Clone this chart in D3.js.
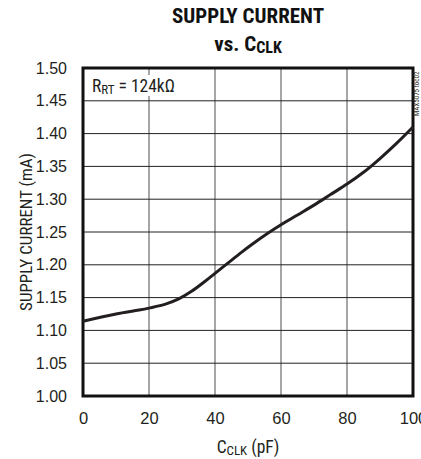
<!DOCTYPE html>
<html><head><meta charset="utf-8">
<script src="https://cdn.jsdelivr.net/npm/d3@7"></script>
<style>
html,body{margin:0;padding:0;background:#fff;}
svg{display:block;font-family:"Roboto Condensed","Liberation Sans",sans-serif;}
</style></head><body>
<svg id="c" width="421" height="459"></svg>
<script>
const cclk = [0, 10, 17, 20, 25, 29, 33, 37, 40, 44, 48, 52, 56, 60, 65, 70, 75, 80, 85, 90, 95, 100];
const current = [1.114, 1.125, 1.131, 1.134, 1.140, 1.148, 1.160, 1.175, 1.187, 1.203, 1.219, 1.234, 1.248, 1.261, 1.276, 1.291, 1.307, 1.323, 1.341, 1.362, 1.385, 1.410];
const xTicks = [0, 20, 40, 60, 80, 100];
const yTicks = [1.00, 1.05, 1.10, 1.15, 1.20, 1.25, 1.30, 1.35, 1.40, 1.45, 1.50];

const svg = d3.select("#c");
const L = 83, R = 413, T = 68, B = 396;
const x = d3.scaleLinear().domain([0, 100]).range([L, R]);
const y = d3.scaleLinear().domain([1.0, 1.5]).range([B, T]);

// grid
svg.append("g").selectAll("line").data(xTicks.slice(1, -1)).join("line")
  .attr("x1", d => x(d)).attr("x2", d => x(d)).attr("y1", T).attr("y2", B)
  .attr("stroke", "#6a6a6a").attr("stroke-width", 1.2);
svg.append("g").selectAll("line").data(yTicks.slice(1, -1)).join("line")
  .attr("y1", d => y(d)).attr("y2", d => y(d)).attr("x1", L).attr("x2", R)
  .attr("stroke", "#222").attr("stroke-width", 1);

// annotation with white background
const ann = svg.append("g");
ann.append("rect").attr("x", 90).attr("y", 75).attr("width", 92).attr("height", 21).attr("fill", "#fff");
const at = ann.append("text").attr("x", 92).attr("y", 92).attr("font-size", 17.5).attr("fill", "#231f20");
at.append("tspan").text("R");
at.append("tspan").attr("font-size", 13).attr("dy", 2).text("RT");
at.append("tspan").attr("dy", -2).text(" = 124kΩ");

// border
svg.append("rect").attr("x", L).attr("y", T).attr("width", R - L).attr("height", B - T)
  .attr("fill", "none").attr("stroke", "#111").attr("stroke-width", 3);

// curve
const pts = cclk.map((c, i) => [c, current[i]]);
svg.append("path").datum(pts)
  .attr("d", d3.line().x(d => x(d[0])).y(d => y(d[1])).curve(d3.curveCatmullRom.alpha(0.5)))
  .attr("fill", "none").attr("stroke", "#231f20").attr("stroke-width", 3);

// axes labels
const yAxis = d3.axisLeft(y).tickValues(yTicks).tickFormat(d3.format(".2f")).tickSize(0).tickPadding(16);
const ga = svg.append("g").attr("transform", `translate(${L},0)`).call(yAxis);
ga.select(".domain").remove();
ga.selectAll("text").attr("font-size", 16).attr("fill", "#231f20").attr("font-family", null);

const xAxis = d3.axisBottom(x).tickValues(xTicks).tickSize(0).tickPadding(16);
const gx = svg.append("g").attr("transform", `translate(0,${B})`).call(xAxis);
gx.select(".domain").remove();
gx.selectAll("text").attr("font-size", 16.5).attr("fill", "#231f20").attr("font-family", null);

// x title
const xt = svg.append("text").attr("x", 248).attr("y", 453).attr("text-anchor", "middle")
  .attr("font-size", 17.5).attr("fill", "#231f20");
xt.append("tspan").text("C");
xt.append("tspan").attr("font-size", 13).attr("dy", 2).text("CLK");
xt.append("tspan").attr("dy", -2).text(" (pF)");

// y title
svg.append("text").attr("transform", `translate(32,${(T + B) / 2}) rotate(-90)`).attr("text-anchor", "middle")
  .attr("font-size", 17).attr("fill", "#231f20").text("SUPPLY CURRENT (mA)");

// chart title
svg.append("text").attr("x", 248).attr("y", 23).attr("text-anchor", "middle")
  .attr("font-size", 21).attr("font-weight", "bold").attr("fill", "#111").text("SUPPLY CURRENT");
const t2 = svg.append("text").attr("x", 248).attr("y", 51).attr("text-anchor", "middle")
  .attr("font-size", 21).attr("font-weight", "bold").attr("fill", "#111");
t2.append("tspan").text("vs. C");
t2.append("tspan").attr("font-size", 16).attr("dy", 2).text("CLK");

// watermark
svg.append("text").attr("transform", "translate(419,116) rotate(-90)")
  .attr("font-size", 7).attr("fill", "#231f20").text("MAX5075 toc02");
</script>
</body></html>
